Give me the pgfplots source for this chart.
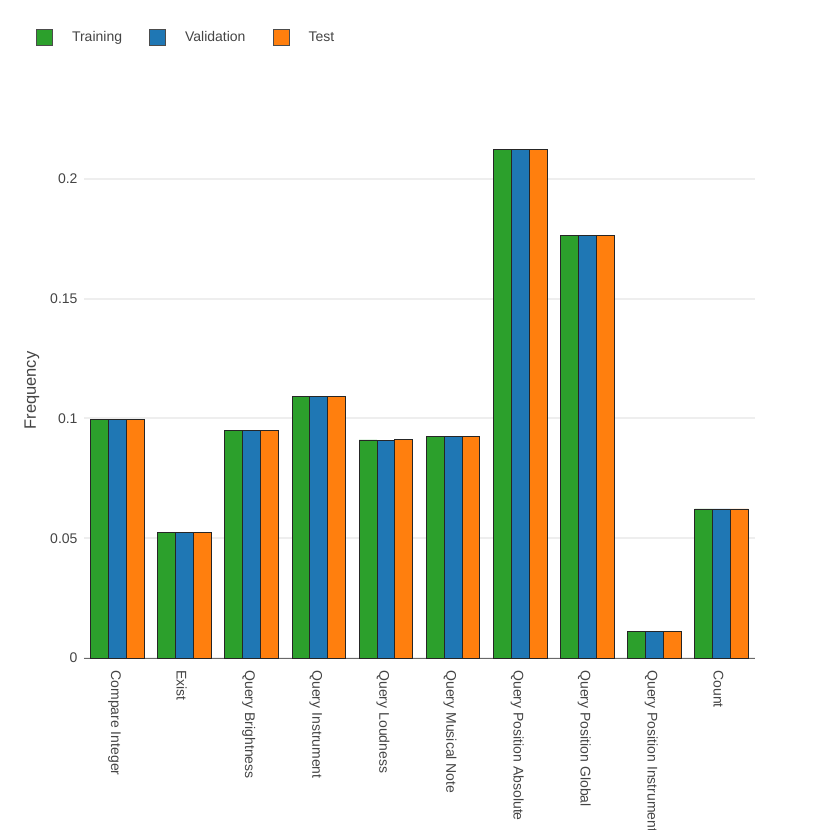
\documentclass[border=0pt]{standalone}
\usepackage{pgfplots}
\pgfplotsset{compat=1.18}
\usepackage{fontspec}
\setmainfont{Liberation Sans}
\definecolor{cgreen}{HTML}{2CA02C}
\definecolor{cblue}{HTML}{1F77B4}
\definecolor{corange}{HTML}{FF7F0E}
\definecolor{txt}{HTML}{444444}
\definecolor{gridc}{HTML}{EEEEEE}
\begin{document}
\begin{tikzpicture}
\path[use as bounding box, clip] (-84pt,-172pt) rectangle (746pt,658pt);
\begin{axis}[
  scale only axis,
  width=671pt, height=535pt,
  xmin=-0.5, xmax=9.5,
  ymin=0, ymax=0.2233,
  axis y line*=left, axis x line*=bottom,
  y axis line style={draw=none},
  x axis line style={draw=txt!80, line width=1pt},
  ytick={0,0.05,0.1,0.15,0.2},
  yticklabels={0,0.05,0.1,0.15,0.2},
  ymajorgrids=true, xmajorgrids=false,
  y grid style={draw=gridc, line width=2pt},
  major tick length=0pt,
  xtick={0,...,9},
  xticklabels={Compare Integer,Exist,Query Brightness,Query Instrument,Query Loudness,Query Musical Note,Query Position Absolute,Query Position Global,Query Position Instrument,Count},
  xticklabel style={rotate=-90, anchor=west, font=\fontsize{14}{16}\selectfont, text=txt, xshift=9pt, yshift=-3pt},
  yticklabel style={font=\fontsize{14}{16}\selectfont, text=txt, xshift=-3pt},
  ylabel={Frequency},
  ylabel style={at={(rel axis cs:-0.0775,0.5)}, anchor=center, font=\fontsize{16.5}{19}\selectfont, text=txt},
  ybar, bar width=17.9pt,
  legend columns=3,
  legend style={at={(rel axis cs:-0.0715,1.1607)}, anchor=west, draw=none, fill=none, inner sep=0pt, outer sep=0pt,
    font=\fontsize{14}{16}\selectfont, text=txt,
    /tikz/every even column/.append style={column sep=25pt},
    /tikz/every odd column/.append style={column sep=17pt}},
  legend image code/.code={\draw[#1, draw=black!70, line width=1pt] (0pt,-8pt) rectangle (16pt,8pt);},
  legend cell align=left,
  clip=false,
]
\addplot[fill=cgreen, draw=black!85, line width=0.9pt, bar shift=-17.9pt] coordinates {
(0,0.0994) (1,0.0522) (2,0.0948) (3,0.1090) (4,0.0910) (5,0.0923) (6,0.2121) (7,0.1762) (8,0.0109) (9,0.0622)};
\addplot[fill=cblue, draw=black!85, line width=0.9pt, bar shift=0pt] coordinates {
(0,0.0994) (1,0.0522) (2,0.0948) (3,0.1090) (4,0.0909) (5,0.0923) (6,0.2121) (7,0.1762) (8,0.0109) (9,0.0622)};
\addplot[fill=corange, draw=black!85, line width=0.9pt, bar shift=17.9pt] coordinates {
(0,0.0994) (1,0.0522) (2,0.0948) (3,0.1090) (4,0.0911) (5,0.0923) (6,0.2121) (7,0.1762) (8,0.0109) (9,0.0622)};
\legend{Training,Validation,Test}
\end{axis}
\end{tikzpicture}
\end{document}
